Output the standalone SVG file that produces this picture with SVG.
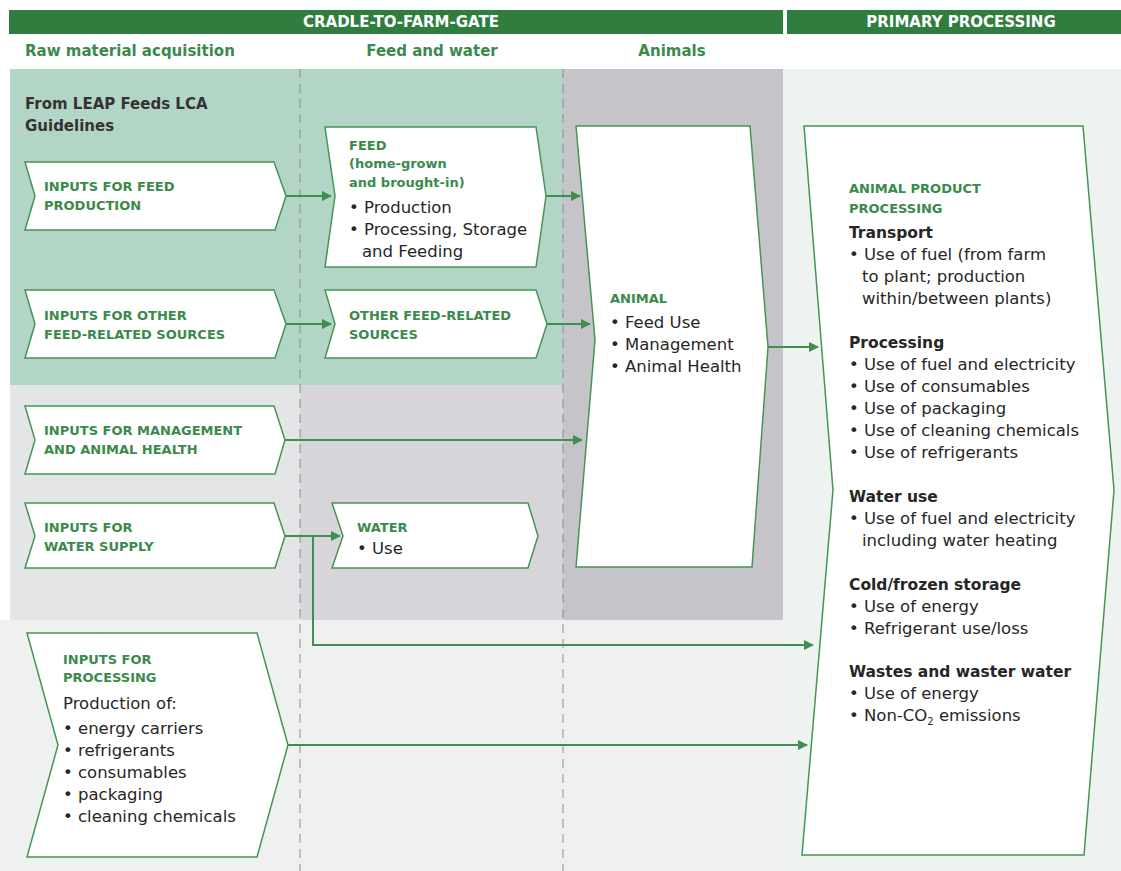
<svg xmlns="http://www.w3.org/2000/svg" width="1121" height="871" viewBox="0 0 1121 871">
  <style>
    .bar { fill: #2f7d3f; }
    .bartxt { font-family: "DejaVu Sans", sans-serif; font-weight: bold; font-size: 15px; fill: #ffffff; text-anchor: middle; }
    .sub { font-family: "DejaVu Sans", sans-serif; font-weight: bold; font-size: 15px; fill: #3a8a4b; }
    .note { font-family: "DejaVu Sans", sans-serif; font-weight: bold; font-size: 15px; fill: #333333; }
    .box { fill: #ffffff; stroke: #449556; stroke-width: 1.5; stroke-linejoin: miter; }
    .lbl { font-family: "DejaVu Sans", sans-serif; font-weight: bold; font-size: 13px; fill: #3a8a4b; }
    .txt { font-family: "DejaVu Sans", sans-serif; font-size: 16.5px; fill: #262626; }
    .hd { font-family: "DejaVu Sans", sans-serif; font-weight: bold; font-size: 15.5px; fill: #262626; }
    .dash { stroke: #8c8c8c; stroke-width: 1; stroke-dasharray: 9 6; fill: none; }
    .conn { stroke: #3f8f51; stroke-width: 2; fill: none; marker-end: url(#arrow); }
  </style>
  <defs>
    <marker id="arrow" viewBox="0 0 10 10" refX="9" refY="5" markerWidth="5" markerHeight="5" orient="auto" markerUnits="strokeWidth">
      <path d="M0,0 L10,5 L0,10 z" fill="#3f8f51"/>
    </marker>
  </defs>

  <!-- background bands -->
  <g id="background">
    <rect x="0" y="0" width="1121" height="871" fill="#ffffff"/>
    <rect x="0" y="620" width="783" height="251" fill="#eff1f1"/>
    <rect x="783" y="69" width="338" height="802" fill="#eef2f0"/>
    <rect x="10" y="69" width="553" height="316" fill="#b3d5c6"/>
    <rect x="10" y="385" width="290" height="235" fill="#e4e5e7"/>
    <rect x="300" y="385" width="263" height="235" fill="#d6d6da"/>
    <rect x="563" y="69" width="220" height="551" fill="#c5c5c9"/>
    <line class="dash" x1="300" y1="69" x2="300" y2="871"/>
    <line class="dash" x1="563" y1="69" x2="563" y2="871"/>
  </g>

  <!-- stage headers -->
  <g id="headers">
    <rect class="bar" x="9" y="10" width="774" height="24"/>
    <rect class="bar" x="787" y="10" width="334" height="24"/>
    <text class="bartxt" x="401" y="27">CRADLE-TO-FARM-GATE</text>
    <text class="bartxt" x="961" y="27">PRIMARY PROCESSING</text>
    <text class="sub" x="25" y="56">Raw material acquisition</text>
    <text class="sub" x="432" y="56" text-anchor="middle">Feed and water</text>
    <text class="sub" x="672" y="56" text-anchor="middle">Animals</text>
    <text class="note" x="25" y="109">From LEAP Feeds LCA</text>
    <text class="note" x="25" y="131">Guidelines</text>
  </g>

  <!-- connectors -->
  <g id="connectors">
    <line class="conn" x1="286" y1="196" x2="331" y2="196"/>
    <line class="conn" x1="546" y1="196" x2="580" y2="196"/>
    <line class="conn" x1="286" y1="324" x2="331" y2="324"/>
    <line class="conn" x1="547" y1="324" x2="590" y2="324"/>
    <line class="conn" x1="285" y1="440" x2="582" y2="440"/>
    <line class="conn" x1="285" y1="536" x2="340" y2="536"/>
    <polyline class="conn" points="313,536 313,645 813,645"/>
    <line class="conn" x1="768" y1="347" x2="818" y2="347"/>
    <line class="conn" x1="288" y1="745" x2="807" y2="745"/>
  </g>

  <g id="inputs-feed-production">
    <polygon class="box" points="25,162 274,162 286,196 275,230 25,230 35,196"/>
    <text class="lbl" x="44" y="191">INPUTS FOR FEED</text>
    <text class="lbl" x="44" y="210">PRODUCTION</text>
  </g>

  <g id="inputs-other-feed">
    <polygon class="box" points="25,290 274,290 286,324 275,358 25,358 35,324"/>
    <text class="lbl" x="44" y="320">INPUTS FOR OTHER</text>
    <text class="lbl" x="44" y="339">FEED-RELATED SOURCES</text>
  </g>

  <g id="inputs-management">
    <polygon class="box" points="25,406 274,406 285,440 275,474 25,474 35,440"/>
    <text class="lbl" x="44" y="435">INPUTS FOR MANAGEMENT</text>
    <text class="lbl" x="44" y="454">AND ANIMAL HEALTH</text>
  </g>

  <g id="inputs-water">
    <polygon class="box" points="25,503 274,503 285,536 275,568 25,568 35,536"/>
    <text class="lbl" x="44" y="532">INPUTS FOR</text>
    <text class="lbl" x="44" y="551">WATER SUPPLY</text>
  </g>

  <g id="feed">
    <polygon class="box" points="325,127 536,127 546,196 536,267 325,267 335,196"/>
    <text class="lbl" x="349" y="150">FEED</text>
    <text class="lbl" x="349" y="168">(home-grown</text>
    <text class="lbl" x="349" y="187">and brought-in)</text>
    <text class="txt" x="349" y="213">• Production</text>
    <text class="txt" x="349" y="235">• Processing, Storage</text>
    <text class="txt" x="362" y="257">and Feeding</text>
  </g>

  <g id="other-feed-sources">
    <polygon class="box" points="325,290 536,290 547,324 536,358 325,358 335,324"/>
    <text class="lbl" x="349" y="320">OTHER FEED-RELATED</text>
    <text class="lbl" x="349" y="339">SOURCES</text>
  </g>

  <g id="water">
    <polygon class="box" points="332,503 528,503 538,536 528,568 332,568 343,536"/>
    <text class="lbl" x="357" y="532">WATER</text>
    <text class="txt" x="357" y="554">• Use</text>
  </g>

  <g id="animal">
    <polygon class="box" points="576,126 750,126 768,347 752,567 576,567 595,340"/>
    <text class="lbl" x="610" y="303">ANIMAL</text>
    <text class="txt" x="610" y="328">• Feed Use</text>
    <text class="txt" x="610" y="350">• Management</text>
    <text class="txt" x="610" y="372">• Animal Health</text>
  </g>

  <g id="inputs-processing">
    <polygon class="box" points="27,633 257,633 288,745 257,857 27,857 58,745"/>
    <text class="lbl" x="63" y="664">INPUTS FOR</text>
    <text class="lbl" x="63" y="682">PROCESSING</text>
    <text class="txt" x="63" y="709">Production of:</text>
    <text class="txt" x="63" y="734">• energy carriers</text>
    <text class="txt" x="63" y="756">• refrigerants</text>
    <text class="txt" x="63" y="778">• consumables</text>
    <text class="txt" x="63" y="800">• packaging</text>
    <text class="txt" x="63" y="822">• cleaning chemicals</text>
  </g>

  <g id="animal-product-processing">
    <polygon class="box" points="804,126 1083,126 1114,490 1084,855 802,855 833,490"/>
    <text class="lbl" x="849" y="193">ANIMAL PRODUCT</text>
    <text class="lbl" x="849" y="213">PROCESSING</text>
    <text class="hd" x="849" y="238">Transport</text>
    <text class="txt" x="849" y="260">• Use of fuel (from farm</text>
    <text class="txt" x="862" y="282">to plant; production</text>
    <text class="txt" x="862" y="304">within/between plants)</text>
    <text class="hd" x="849" y="348">Processing</text>
    <text class="txt" x="849" y="370">• Use of fuel and electricity</text>
    <text class="txt" x="849" y="392">• Use of consumables</text>
    <text class="txt" x="849" y="414">• Use of packaging</text>
    <text class="txt" x="849" y="436">• Use of cleaning chemicals</text>
    <text class="txt" x="849" y="458">• Use of refrigerants</text>
    <text class="hd" x="849" y="502">Water use</text>
    <text class="txt" x="849" y="524">• Use of fuel and electricity</text>
    <text class="txt" x="862" y="546">including water heating</text>
    <text class="hd" x="849" y="590">Cold/frozen storage</text>
    <text class="txt" x="849" y="612">• Use of energy</text>
    <text class="txt" x="849" y="634">• Refrigerant use/loss</text>
    <text class="hd" x="849" y="677">Wastes and waster water</text>
    <text class="txt" x="849" y="699">• Use of energy</text>
    <text class="txt" x="849" y="721">• Non-CO<tspan font-size="10px" dy="4">2</tspan><tspan dy="-4"> emissions</tspan></text>
  </g>
</svg>
